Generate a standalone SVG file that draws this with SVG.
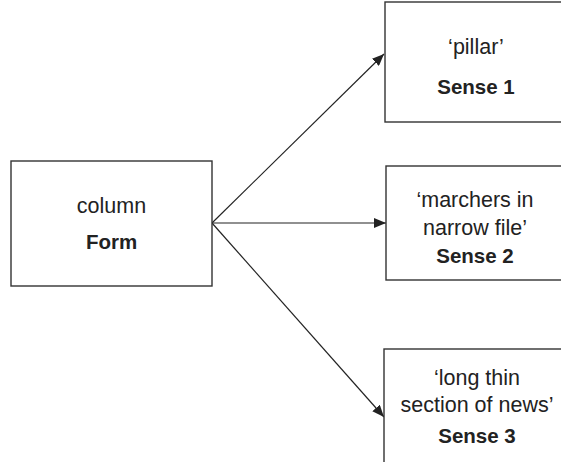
<svg xmlns="http://www.w3.org/2000/svg" width="561" height="462" viewBox="0 0 561 462">
<defs>
<style>
.box{fill:#fff;stroke:#333;stroke-width:1.4}
.t{font-family:"Liberation Sans",Arial,sans-serif;font-size:21.5px;fill:#222;text-anchor:middle}
.b{font-weight:bold;font-size:20.5px}
.c{stroke:#222;stroke-width:1.2;fill:none}
</style>
<marker id="ah" viewBox="0 0 12 10" refX="12" refY="5" markerWidth="12" markerHeight="10" markerUnits="userSpaceOnUse" orient="auto">
<path d="M0,0 L12,5 L0,10 Z" fill="#222"/>
</marker>
</defs>
<rect width="561" height="462" fill="#fff"/>
<g id="connectors">
<line class="c" x1="212" y1="223" x2="384" y2="54" marker-end="url(#ah)"/>
<line class="c" x1="212" y1="223" x2="386" y2="223" marker-end="url(#ah)"/>
<line class="c" x1="212" y1="223" x2="384" y2="417" marker-end="url(#ah)"/>
</g>
<g id="form">
<rect class="box" x="11" y="161" width="201" height="125"/>
<text class="t" x="111.5" y="213">column</text>
<text class="t b" x="111.5" y="249">Form</text>
</g>
<g id="sense1">
<rect class="box" x="385" y="2" width="190" height="120"/>
<text class="t" x="476" y="54">‘pillar’</text>
<text class="t b" x="476" y="94">Sense 1</text>
</g>
<g id="sense2">
<rect class="box" x="386" y="166" width="190" height="114"/>
<text class="t" x="475" y="207">‘marchers in</text>
<text class="t" x="475" y="235">narrow file’</text>
<text class="t b" x="475" y="263">Sense 2</text>
</g>
<g id="sense3">
<rect class="box" x="384" y="349" width="190" height="130"/>
<text class="t" x="477" y="385">‘long thin</text>
<text class="t" x="477" y="412">section of news’</text>
<text class="t b" x="477" y="443">Sense 3</text>
</g>
</svg>
